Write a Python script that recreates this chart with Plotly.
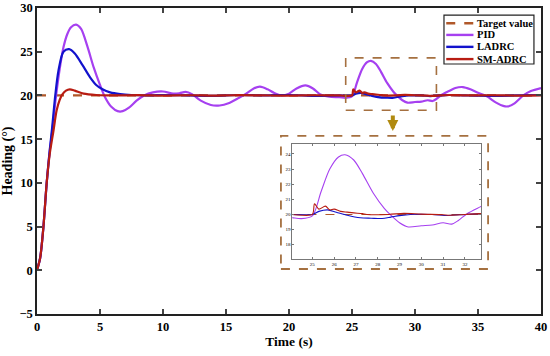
import plotly.graph_objects as go

# ---------------- data ----------------
t_target = [0, 40]
v_target = [20, 20]

t_pid = [0, 0.25, 0.5, 0.77, 1.0, 1.2, 1.5, 1.8, 2.1, 2.4, 2.7, 3.1, 3.5, 4.0, 4.5, 5.0, 5.4,
         5.9, 6.4, 6.8, 7.3, 7.9, 8.5, 9.2, 10.0, 10.8, 11.3, 11.8, 12.3, 13.0, 13.8, 14.5,
         15.2, 16.0, 16.6, 17.2, 17.7, 18.3, 18.8, 19.4, 20.0, 20.6, 21.3, 21.9, 22.5, 23.2,
         24.0, 24.5, 25.0, 25.4, 25.8, 26.2, 26.5, 26.9, 27.3, 27.8, 28.3, 28.6, 29.0, 29.4,
         30.0, 30.5, 31.0, 31.4, 31.7, 32.1, 32.7, 33.2, 33.8, 34.4, 35.0, 35.7, 36.4, 37.0,
         37.4, 37.9, 38.6, 39.2, 40.0]
v_pid = [0, 1.4, 4.8, 10.0, 13.5, 15.8, 19.8, 23.0, 25.5, 27.0, 27.8, 28.1, 27.6, 25.6, 23.2,
         21.2, 19.8, 18.7, 18.2, 18.2, 18.6, 19.4, 20.0, 20.35, 20.45, 20.2, 20.25, 20.4, 20.15,
         19.4, 18.9, 18.85, 19.1, 19.7, 20.2, 20.8, 21.0, 20.7, 20.3, 20.0, 20.2, 20.8, 21.15,
         20.8, 20.1, 19.85, 19.8, 19.72, 19.9, 21.5, 23.0, 23.8, 23.95, 23.6, 22.7, 21.4, 20.4,
         19.95, 19.45, 19.17, 19.25, 19.3, 19.45, 19.36, 19.6, 20.05, 20.5, 20.85, 20.96, 20.7,
         20.3, 19.9, 19.2, 18.8, 18.75, 19.1, 20.0, 20.5, 20.85]

t_ladrc = [0, 0.25, 0.5, 0.77, 1.0, 1.2, 1.45, 1.7, 2.1, 2.55, 3.0, 3.6, 4.2, 4.7, 5.2, 5.8,
           6.6, 7.5, 9.0, 10.0, 12.0, 14.0, 16.0, 18.0, 20.0, 22.0, 24.0, 25.0, 25.3, 25.7,
           26.1, 26.6, 27.2, 27.7, 28.2, 28.6, 29.0, 29.5, 30.5, 31.2, 32.0, 32.7, 34.0, 36.0,
           38.0, 40.0]
v_ladrc = [0, 1.4, 4.8, 10.0, 13.6, 16.3, 20.0, 22.8, 25.0, 25.3, 24.8, 23.5, 22.1, 21.2, 20.7,
           20.35, 20.15, 20.05, 20.0, 20.05, 20.0, 19.95, 20.05, 20.0, 20.05, 19.95, 20.0, 20.0,
           20.2, 20.3, 20.15, 19.95, 19.78, 19.75, 19.73, 19.82, 19.92, 20.0, 20.0, 19.93, 20.0,
           20.05, 20.0, 19.95, 20.0, 20.05]

t_smadrc = [0, 0.25, 0.5, 0.77, 1.0, 1.3, 1.56, 1.8, 2.0, 2.3, 2.6, 3.0, 3.7, 4.7, 6.0, 8.0,
            10.0, 12.0, 14.0, 16.0, 18.0, 20.0, 22.0, 24.0, 25.0, 25.1, 25.3, 25.6, 25.8, 26.0,
            26.3, 26.6, 26.9, 27.3, 27.5, 28.5, 29.2, 30.0, 31.0, 31.3, 32.0, 32.7, 34.0, 36.0,
            38.0, 40.0]
v_smadrc = [0, 1.4, 4.8, 10.0, 13.2, 15.9, 18.3, 19.5, 20.1, 20.55, 20.7, 20.55, 20.2, 20.05,
            20.0, 20.03, 19.97, 20.02, 19.98, 20.03, 20.0, 19.97, 20.02, 20.0, 20.0, 20.7, 20.35,
            20.55, 20.3, 20.35, 20.2, 20.15, 20.1, 20.05, 20.0, 20.0, 20.07, 20.02, 19.98, 19.95,
            20.0, 20.05, 20.0, 20.02, 19.98, 20.0]

main_xticks = [0, 5, 10, 15, 20, 25, 30, 35, 40]
main_yticks = [-5, 0, 5, 10, 15, 20, 25, 30]
inset_xticks = [25, 26, 27, 28, 29, 30, 31, 32]
inset_yticks = [18, 19, 20, 21, 22, 23, 24]

legend_names = ["Target value", "PID", "LADRC", "SM-ADRC"]

# ---------------- styles ----------------
C_TARGET = "#b0582a"
C_PID = "#a640f0"
C_LADRC = "#1212cc"
C_SM = "#b81c12"
C_BOX = "#a57040"
C_ARROW = "#b08a10"
FONT = "Liberation Serif"

fig = go.Figure()

series = [
    (t_target, v_target, C_TARGET, "dash", "linear"),
    (t_pid, v_pid, C_PID, "solid", "spline"),
    (t_ladrc, v_ladrc, C_LADRC, "solid", "spline"),
    (t_smadrc, v_smadrc, C_SM, "solid", "spline"),
]
for (tx, vy, c, dash, shape), name in zip(series, legend_names):
    fig.add_trace(go.Scatter(x=tx, y=vy, mode="lines", name=name, showlegend=False,
                             line=dict(color=c, width=2.2, dash=dash, shape=shape, smoothing=0.8),
                             xaxis="x", yaxis="y"))
for (tx, vy, c, dash, shape), name in zip(series, legend_names):
    fig.add_trace(go.Scatter(x=tx, y=vy, mode="lines", name=name, showlegend=False,
                             line=dict(color=c, width=1.1, dash=dash, shape=shape, smoothing=0.8),
                             xaxis="x2", yaxis="y2"))

axis_common = dict(showline=True, linecolor="#222", mirror="ticks", ticks="inside",
                   showgrid=False, zeroline=False, automargin=False)

fig.update_layout(
    width=550, height=356,
    margin=dict(l=37, r=9, t=8, b=42),
    paper_bgcolor="white", plot_bgcolor="white",
    font=dict(family=FONT, color="black"),
    xaxis=dict(range=[0, 40], tickvals=main_xticks, ticklen=5, linewidth=1.5, tickwidth=1.5,
               tickfont=dict(size=12.5, family=FONT, weight="bold"),
               title=dict(text="<b>Time (s)</b>", font=dict(size=13.5, family=FONT), standoff=4),
               domain=[0, 1], **axis_common),
    yaxis=dict(range=[-5, 30], tickvals=main_yticks, ticklen=5, linewidth=1.5, tickwidth=1.5,
               tickfont=dict(size=12.5, family=FONT, weight="bold"),
               title=dict(text="<b>Heading (°)</b>", font=dict(size=14, family=FONT), standoff=6),
               domain=[0, 1], **axis_common),
    xaxis2=dict(range=[24.08, 32.74], tickvals=inset_xticks, ticklen=2, linewidth=0.8,
                tickwidth=0.6, linecolor="#777", tickcolor="#777",
                tickfont=dict(size=5, family=FONT), anchor="y2",
                domain=[0.5065, 0.881], showline=True, mirror="ticks", ticks="inside",
                showgrid=False, zeroline=False, automargin=False),
    yaxis2=dict(range=[17.05, 24.66], tickvals=inset_yticks, ticklen=2, linewidth=0.8,
                tickwidth=0.6, linecolor="#777", tickcolor="#777",
                tickfont=dict(size=5, family=FONT), anchor="x2",
                domain=[0.1797, 0.5556], showline=True, mirror="ticks", ticks="inside",
                showgrid=False, zeroline=False, automargin=False),
)

fig.add_shape(type="rect", xref="x", yref="y", x0=24.5, x1=31.7, y0=18.3, y1=24.3,
              line=dict(color=C_BOX, width=1.6, dash="dash"))
fig.add_shape(type="rect", xref="paper", yref="paper", x0=0.484, x1=0.895, y0=0.147, y1=0.582,
              line=dict(color=C_BOX, width=1.8, dash="dash"))
fig.add_annotation(xref="paper", yref="paper", x=0.706, y=0.598, ax=0, ay=-17,
                   showarrow=True, arrowhead=2, arrowsize=0.55, arrowwidth=4,
                   arrowcolor=C_ARROW, text="")

lx0, lx1 = 0.8075, 0.986
ly0, ly1 = 0.817, 0.977
fig.add_shape(type="rect", xref="paper", yref="paper", x0=lx0, x1=lx1, y0=ly0, y1=ly1,
              line=dict(color="#222", width=1.2), fillcolor="white", layer="above")
leg_y = [0.950, 0.912, 0.873, 0.833]
for (tx, vy, c, dash, shape), name, yy in zip(series, legend_names, leg_y):
    fig.add_shape(type="line", xref="paper", yref="paper", x0=0.812, x1=0.866, y0=yy, y1=yy,
                  line=dict(color=c, width=2.4, dash="dash" if dash == "dash" else "solid"),
                  layer="above")
    fig.add_annotation(xref="paper", yref="paper", x=0.870, y=yy, xanchor="left",
                       yanchor="middle", showarrow=False, text="<b>" + name + "</b>",
                       font=dict(size=10.5, family=FONT, color="black"))

fig.write_html("out.html", config={"displayModeBar": False},
               post_script="document.body.style.margin='0px';")
